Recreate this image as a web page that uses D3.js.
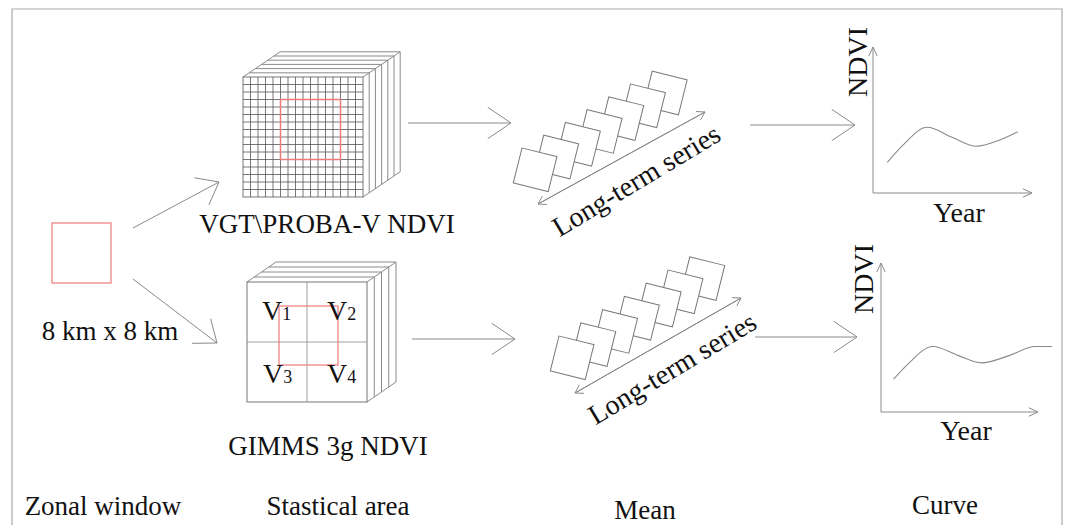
<!DOCTYPE html>
<html>
<head>
<meta charset="utf-8">
<script src="https://cdn.jsdelivr.net/npm/d3@7"></script>
<style>
  body { margin: 0; background: #fff; }
  text { font-family: "Liberation Serif", "Times New Roman", serif; fill: #111; }
</style>
</head>
<body>
<div id="chart"></div>
<script>
// Curve values (year index, relative NDVI)
const upperYears = [0.9, 1.9, 3.4, 5.0, 6.5, 7.9, 9.1];
const upperNdvi = [0.21, 0.33, 0.45, 0.38, 0.32, 0.36, 0.42];
const lowerYears = [0.8, 1.7, 3.3, 4.9, 6.4, 8.2, 9.8, 10.9];
const lowerNdvi = [0.22, 0.32, 0.44, 0.38, 0.33, 0.38, 0.44, 0.44];

const vgtCells = 16;          // fine grid of VGT\PROBA-V
const vgtWindow = [5, 13, 3, 11]; // red window: col from/to, row from/to
const gimmsCells = 2;
const gimmsLabels = [["V", "1"], ["V", "2"], ["V", "3"], ["V", "4"]];
const seriesFrames = 7;
const stepLabels = ["Zonal window", "Stastical area", "Mean", "Curve"];
const sourceLabels = ["VGT\\PROBA-V NDVI", "GIMMS 3g NDVI"];

const W = 1070, H = 525;
const grey = "#8a8a8a";
const red = "#f07a7a";

const svg = d3.select("#chart").append("svg")
  .attr("width", W).attr("height", H)
  .style("display", "block");

// Rand om de figuur
svg.append("path")
  .attr("d", "M12," + H + "V9H1062V" + H)
  .attr("fill", "none").attr("stroke", "#aaa").attr("stroke-width", 1.2);

// Open pijl tekenen
function arrow(g, x1, y1, x2, y2, len, ang) {
  g.append("line").attr("x1", x1).attr("y1", y1).attr("x2", x2).attr("y2", y2)
    .attr("stroke", grey).attr("stroke-width", 1);
  const a = Math.atan2(y1 - y2, x1 - x2);
  [-1, 1].forEach(function (s) {
    const b = a + s * ang * Math.PI / 180;
    g.append("line").attr("x1", x2).attr("y1", y2)
      .attr("x2", x2 + len * Math.cos(b)).attr("y2", y2 + len * Math.sin(b))
      .attr("stroke", grey).attr("stroke-width", 1);
  });
}

const g = svg.append("g");

// Zonal window
g.append("rect").attr("x", 52).attr("y", 223).attr("width", 59).attr("height", 60)
  .attr("fill", "none").attr("stroke", red).attr("stroke-width", 1.2);
g.append("text").attr("x", 110).attr("y", 340).attr("text-anchor", "middle")
  .attr("font-size", 27).text("8 km x 8 km");

arrow(g, 133, 228, 219, 182, 25, 38);
arrow(g, 133, 279, 217, 343, 25, 38);

// Stapel van lagen (kubus): voorvlak met raster, boven- en zijvlak met laagranden
function stack(x, y, size, layers, dx, dy, cells) {
  const c = g.append("g").attr("stroke-width", 1).attr("fill", "none");
  const layerIdx = d3.range(1, layers + 1);
  // bovenranden van de lagen
  c.selectAll(".top").data(layerIdx).enter().append("line")
    .attr("x1", function (i) { return x + i * dx; })
    .attr("x2", function (i) { return x + size + i * dx; })
    .attr("y1", function (i) { return y + i * dy; })
    .attr("y2", function (i) { return y + i * dy; })
    .attr("stroke", grey);
  // zijranden van de lagen
  c.selectAll(".side").data(layerIdx).enter().append("line")
    .attr("x1", function (i) { return x + size + i * dx; })
    .attr("x2", function (i) { return x + size + i * dx; })
    .attr("y1", function (i) { return y + i * dy; })
    .attr("y2", function (i) { return y + size + i * dy; })
    .attr("stroke", grey);
  // diagonale ribben
  [[x, y], [x + size, y], [x + size, y + size]].forEach(function (p) {
    c.append("line").attr("x1", p[0]).attr("y1", p[1])
      .attr("x2", p[0] + layers * dx).attr("y2", p[1] + layers * dy)
      .attr("stroke", grey);
  });
  c.append("rect").attr("x", x).attr("y", y).attr("width", size).attr("height", size)
    .attr("fill", "#fff").attr("stroke", "#777");
  const sx = d3.scaleLinear().domain([0, cells]).range([x, x + size]);
  const sy = d3.scaleLinear().domain([0, cells]).range([y, y + size]);
  const col = cells > 4 ? "#555" : "#888";
  c.selectAll(".vl").data(d3.range(1, cells)).enter().append("line")
    .attr("x1", sx).attr("x2", sx).attr("y1", y).attr("y2", y + size)
    .attr("stroke", col).attr("stroke-width", 0.8);
  c.selectAll(".hl").data(d3.range(1, cells)).enter().append("line")
    .attr("y1", sy).attr("y2", sy).attr("x1", x).attr("x2", x + size)
    .attr("stroke", col).attr("stroke-width", 0.8);
  return { sx: sx, sy: sy };
}

const vgtStack = stack(243, 77, 120, 6, 6.2, -4.2, vgtCells);
g.append("rect")
  .attr("x", vgtStack.sx(vgtWindow[0])).attr("y", vgtStack.sy(vgtWindow[2]))
  .attr("width", vgtStack.sx(vgtWindow[1]) - vgtStack.sx(vgtWindow[0]))
  .attr("height", vgtStack.sy(vgtWindow[3]) - vgtStack.sy(vgtWindow[2]))
  .attr("fill", "none").attr("stroke", red).attr("stroke-width", 1.5);
g.append("text").attr("x", 327).attr("y", 233).attr("text-anchor", "middle")
  .attr("font-size", 27).text(sourceLabels[0]);

stack(247, 282, 120, 4, 7.25, -5, gimmsCells);
g.append("rect").attr("x", 279).attr("y", 306).attr("width", 59).attr("height", 59)
  .attr("fill", "none").attr("stroke", red).attr("stroke-width", 1.2);
const vPos = [[262, 320], [327, 320], [263, 383], [327, 383]];
gimmsLabels.forEach(function (l, i) {
  const t = g.append("text").attr("x", vPos[i][0]).attr("y", vPos[i][1]).attr("font-size", 28);
  t.append("tspan").text(l[0]);
  t.append("tspan").attr("font-size", 18).text(l[1]);
});
g.append("text").attr("x", 328).attr("y", 455).attr("text-anchor", "middle")
  .attr("font-size", 27).text(sourceLabels[1]);

arrow(g, 408, 123, 511, 123, 28, 34);
arrow(g, 412, 339, 515, 339, 28, 34);

// Lange tijdreeks van beelden
function series(x0, y0, stepX, stepY, a1, a2, tc) {
  const s = g.append("g");
  for (let i = seriesFrames - 1; i >= 0; i--) {
    s.append("rect").attr("x", 0).attr("y", 0).attr("width", 36).attr("height", 36)
      .attr("transform", "translate(" + (x0 + i * stepX) + "," + (y0 + i * stepY) + ") rotate(14)")
      .attr("fill", "#fff").attr("stroke", "#777").attr("stroke-width", 1);
  }
  arrow(s, a1[0], a1[1], a2[0], a2[1], 9, 32);
  arrow(s, a2[0], a2[1], a1[0], a1[1], 9, 32);
  s.append("text").attr("text-anchor", "middle").attr("dy", "0.35em")
    .attr("font-size", 28)
    .attr("transform", "translate(" + tc[0] + "," + tc[1] + ") rotate(-31)")
    .text("Long-term series");
}
series(522, 148, 21.7, -12.8, [538, 204], [705, 112], [636, 180]);
series(559, 336, 21.8, -13.2, [575, 393], [741, 298], [672, 368]);

arrow(g, 750, 125, 855, 125, 28, 34);
arrow(g, 755, 337, 857, 337, 28, 34);

// NDVI curves
function curvePanel(ox, oy, w, h, xs, ys, labelX, labelYear) {
  const x = d3.scaleLinear().domain([0, 10]).range([ox, ox + w]);
  const y = d3.scaleLinear().domain([0, 1]).range([oy, oy - h]);
  arrow(g, x(0), y(0), x(10), y(0), 10, 25);
  arrow(g, x(0), y(0), x(0), y(1), 10, 25);
  const line = d3.line().x(function (d) { return x(d[0]); })
    .y(function (d) { return y(d[1]); }).curve(d3.curveMonotoneX);
  g.append("path").datum(d3.zip(xs, ys)).attr("d", line)
    .attr("fill", "none").attr("stroke", grey).attr("stroke-width", 1.1);
  g.append("text").attr("text-anchor", "middle").attr("font-size", 28)
    .attr("transform", "translate(" + labelX[0] + "," + labelX[1] + ") rotate(-90)")
    .text("NDVI");
  g.append("text").attr("x", labelYear[0]).attr("y", labelYear[1])
    .attr("text-anchor", "middle").attr("font-size", 28).text("Year");
}
curvePanel(873, 193, 159, 146, upperYears, upperNdvi, [867, 62], [959, 222]);
curvePanel(881, 412, 157, 149, lowerYears, lowerNdvi, [873, 279], [966, 440]);

// Stap labels onderaan
const stepX = [103, 338, 645, 945];
const stepY = [515, 515, 519, 514];
g.selectAll(".step").data(stepLabels).enter().append("text")
  .attr("x", function (d, i) { return stepX[i]; })
  .attr("y", function (d, i) { return stepY[i]; })
  .attr("text-anchor", "middle").attr("font-size", 27)
  .text(function (d) { return d; });
</script>
</body>
</html>
